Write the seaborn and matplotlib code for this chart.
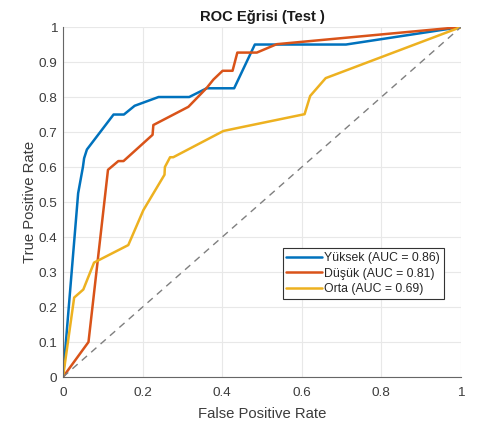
import numpy as np
import pandas as pd
import matplotlib
matplotlib.use("Agg")
import matplotlib.pyplot as plt
import seaborn as sns

# ROC curve points per class (false positive rate, true positive rate)
fpr_yuksek = [0.0, 0.038, 0.050, 0.053, 0.060, 0.127, 0.153, 0.180, 0.240, 0.317, 0.361, 0.430, 0.482, 0.711, 1.0]
tpr_yuksek = [0.0, 0.525, 0.600, 0.625, 0.650, 0.750, 0.750, 0.775, 0.800, 0.800, 0.825, 0.825, 0.950, 0.950, 1.0]

fpr_dusuk = [0.0, 0.064, 0.113, 0.139, 0.152, 0.225, 0.227, 0.315, 0.361, 0.378, 0.401, 0.426, 0.438, 0.487, 0.537, 1.0]
tpr_dusuk = [0.0, 0.100, 0.592, 0.617, 0.617, 0.692, 0.720, 0.772, 0.826, 0.850, 0.875, 0.875, 0.927, 0.927, 0.951, 1.0]

fpr_orta = [0.0, 0.028, 0.051, 0.078, 0.164, 0.202, 0.255, 0.256, 0.269, 0.277, 0.403, 0.445, 0.607, 0.621, 0.660, 1.0]
tpr_orta = [0.0, 0.227, 0.250, 0.327, 0.377, 0.477, 0.578, 0.600, 0.628, 0.628, 0.703, 0.713, 0.751, 0.803, 0.854, 1.0]

class_names = ["Yüksek", "Düşük", "Orta"]
auc_values = [0.86, 0.81, 0.69]

x_ticks = [0, 0.2, 0.4, 0.6, 0.8, 1]
x_tick_labels = ["0", "0.2", "0.4", "0.6", "0.8", "1"]
y_ticks = [0, 0.1, 0.2, 0.3, 0.4, 0.5, 0.6, 0.7, 0.8, 0.9, 1]
y_tick_labels = ["0", "0.1", "0.2", "0.3", "0.4", "0.5", "0.6", "0.7", "0.8", "0.9", "1"]

colors = ["#0072BD", "#D95319", "#EDB120"]

labels = [f"{n} (AUC = {a:.2f})" for n, a in zip(class_names, auc_values)]
frames = []
for lab, fx, ty in zip(labels,
                       [fpr_yuksek, fpr_dusuk, fpr_orta],
                       [tpr_yuksek, tpr_dusuk, tpr_orta]):
    frames.append(pd.DataFrame({"fpr": fx, "tpr": ty, "class": lab,
                                "order": np.arange(len(fx))}))
df = pd.concat(frames, ignore_index=True)

sns.set_style("white")
plt.rcParams["font.family"] = ["Liberation Sans", "DejaVu Sans"]

fig = plt.figure(figsize=(4.87, 4.23), dpi=100)
ax = fig.add_axes([0.1294, 0.1087, 0.8172, 0.8274])

grid_color = "#e8e8e8"
ax.set_axisbelow(True)
ax.grid(True, color=grid_color, linewidth=0.8)

sns.lineplot(data=df, x="fpr", y="tpr", hue="class", hue_order=labels,
             palette=dict(zip(labels, colors)), sort=False, estimator=None,
             units="class", linewidth=1.8, ax=ax)

# chance line
sns.lineplot(x=[0, 1], y=[0, 1], color="#7f7f7f", linestyle=(0, (5, 4)),
             linewidth=1.0, ax=ax, legend=False)

ax.set_xlim(0, 1)
ax.set_ylim(0, 1)
ax.set_xticks(x_ticks)
ax.set_xticklabels(x_tick_labels)
ax.set_yticks(y_ticks)
ax.set_yticklabels(y_tick_labels)

axis_color = "#262626"
text_color = "#3c3c3c"
for side in ["top", "right"]:
    ax.spines[side].set_visible(False)
for side in ["left", "bottom"]:
    ax.spines[side].set_color("#666666")
    ax.spines[side].set_linewidth(0.8)
ax.tick_params(direction="in", length=4, width=0.8, color="#666666",
               labelsize=9.7, labelcolor=text_color)
ax.tick_params(axis="x", pad=7)
ax.tick_params(axis="y", pad=4)

ax.set_xlabel("False Positive Rate", fontsize=10.7, color=text_color, labelpad=6)
ax.set_ylabel("True Positive Rate", fontsize=10.7, color=text_color, labelpad=1)
ax.set_title("ROC Eğrisi (Test )", fontsize=10.6, fontweight="bold",
             color="#1a1a1a", pad=4)

leg = ax.legend(loc="upper left", bbox_to_anchor=(0.552, 0.368),
                fontsize=8.8, frameon=True, fancybox=False, framealpha=1,
                edgecolor="#333333", handlelength=2.9, handletextpad=0.2,
                borderpad=0.3, labelspacing=0.3, borderaxespad=0)
leg.get_frame().set_linewidth(0.8)
for t in leg.get_texts():
    t.set_color(axis_color)

fig.savefig("out.png", dpi=100, facecolor="white")
